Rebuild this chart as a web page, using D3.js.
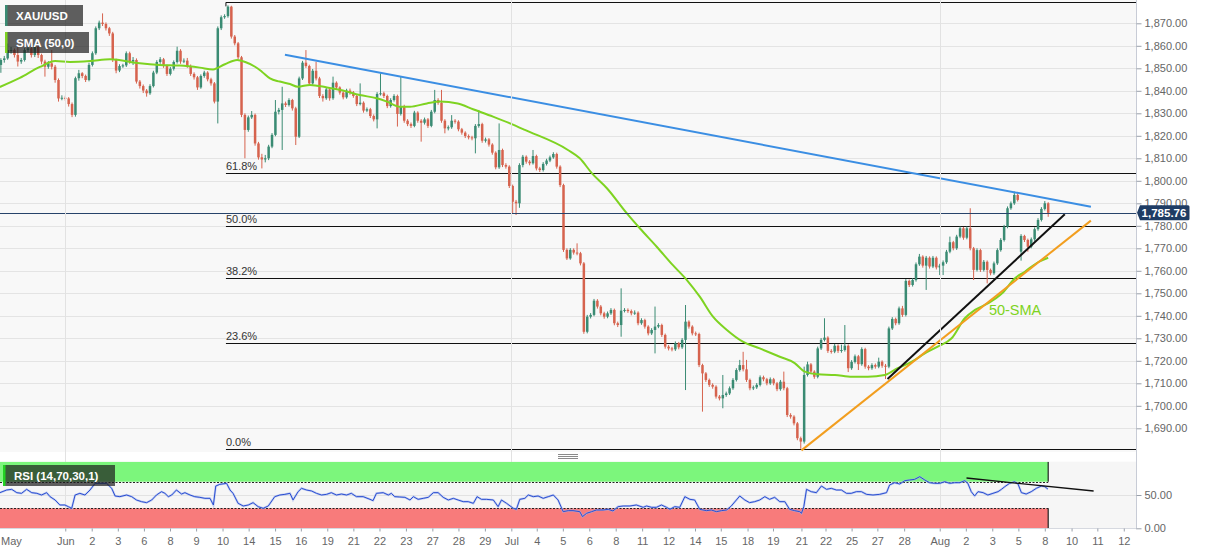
<!DOCTYPE html>
<html><head><meta charset="utf-8">
<script src="https://cdn.jsdelivr.net/npm/d3@7"></script>
<style>
html,body{margin:0;padding:0;background:#fff;}
svg{display:block;font-family:"Liberation Sans",Arial,Helvetica,sans-serif;}
</style></head><body>
<svg id="c" width="1207" height="555"></svg>
<script>
// ---------- DATA (XAU/USD, 4H bars; bar index 0 = Jun 1) ----------
const firstBar = -19;
const opens = [
1851.5,1853.7,1854.4,1858.1,1858.1,1855.9,1853.0,1853.7,1858.1,1858.9,
1855.9,1859.6,1855.9,1853.0,1850.7,1852.2,1850.7,1844.8,1836.6,1836.9,
1836.6,1834.1,1829.3,1845.6,1847.8,1846.6,1844.8,1851.5,1856.7,1867.8,
1870.3,1869.7,1867.8,1865.5,1853.7,1849.0,1851.0,1851.3,1856.7,1853.0,
1853.7,1844.1,1842.1,1840.1,1838.9,1842.1,1848.1,1852.8,1854.0,1851.0,
1847.5,1849.8,1852.8,1857.8,1853.0,1853.4,1851.0,1847.5,1846.0,1841.5,
1846.6,1848.1,1845.1,1843.3,1835.2,1867.8,1872.7,1873.2,1877.4,1864.1,
1861.1,1854.9,1829.3,1822.6,1828.2,1829.3,1816.6,1810.4,1809.5,1810.0,
1815.2,1820.4,1830.7,1831.5,1834.4,1833.7,1835.9,1832.2,1819.6,1845.5,
1852.5,1851.0,1843.3,1848.9,1845.5,1837.7,1836.7,1840.6,1836.7,1843.6,
1841.5,1839.2,1837.1,1840.1,1839.2,1837.7,1834.1,1834.7,1831.2,1831.8,
1828.8,1827.3,1838.6,1838.9,1837.7,1833.2,1835.9,1837.7,1829.7,1833.2,
1826.7,1825.2,1824.4,1830.3,1826.7,1825.8,1827.3,1824.4,1830.7,1835.9,
1834.7,1826.7,1823.3,1823.8,1826.7,1826.3,1822.9,1821.4,1819.9,1819.3,
1818.9,1824.4,1825.2,1817.8,1818.4,1816.1,1812.5,1806.0,1813.7,1807.0,
1806.3,1797.7,1790.7,1790.0,1807.0,1810.7,1808.5,1807.8,1811.0,1805.5,
1804.8,1807.5,1809.0,1810.4,1811.9,1806.3,1798.1,1769.3,1765.5,1769.3,
1768.1,1767.8,1763.3,1732.9,1739.6,1740.4,1746.7,1744.1,1741.1,1739.6,
1741.1,1742.6,1736.7,1735.9,1742.3,1742.6,1742.1,1741.1,1741.4,1736.7,
1738.1,1735.2,1732.2,1733.7,1735.2,1735.9,1731.5,1726.3,1725.5,1725.1,
1727.8,1726.0,1729.3,1737.4,1735.2,1732.2,1731.9,1718.1,1714.4,1711.5,
1709.3,1708.5,1704.1,1703.3,1704.8,1705.5,1707.8,1711.5,1715.9,1718.1,
1716.2,1711.5,1707.8,1708.2,1709.3,1712.7,1711.8,1710.0,1711.8,1710.0,
1707.4,1710.7,1707.8,1695.9,1695.2,1692.2,1685.6,1684.1,1713.7,1718.4,
1715.2,1712.9,1725.5,1729.3,1730.3,1724.4,1724.1,1726.7,1724.4,1724.8,
1726.7,1716.7,1719.5,1722.0,1718.5,1725.2,1717.4,1716.7,1718.1,1717.4,
1719.6,1717.8,1717.4,1734.4,1738.6,1736.7,1743.3,1740.4,1755.5,1753.7,
1755.9,1762.9,1766.3,1762.3,1765.8,1761.9,1765.8,1761.5,1762.3,1763.8,
1768.5,1772.7,1770.0,1775.2,1778.9,1774.7,1778.9,1770.0,1760.4,1769.2,
1760.4,1764.0,1760.4,1758.9,1763.3,1769.2,1773.7,1779.6,1787.8,1790.0,
1793.7,1768.5,1775.5,1773.7,1770.7,1774.0,1778.5,1782.6,1787.5,1790.0];
const highs = [
1854.5,1855.5,1861.0,1859.5,1858.8,1861.0,1854.6,1859.0,1860.2,1859.5,
1861.0,1860.2,1856.5,1853.8,1853.2,1858.1,1851.5,1845.5,1838.0,1837.8,
1837.2,1834.8,1846.3,1849.3,1848.3,1847.2,1852.5,1857.5,1868.6,1871.2,
1874.4,1870.4,1868.4,1866.2,1854.3,1851.8,1852.0,1857.5,1857.4,1855.0,
1854.4,1844.8,1842.8,1840.8,1842.9,1848.9,1853.6,1855.0,1854.6,1851.6,
1850.6,1853.5,1859.6,1858.5,1854.4,1854.6,1851.7,1848.2,1846.6,1847.3,
1848.9,1848.7,1845.8,1843.9,1868.6,1873.5,1874.0,1878.0,1877.8,1864.8,
1861.7,1855.5,1830.0,1829.0,1831.0,1829.9,1817.3,1812.0,1811.5,1816.0,
1821.2,1835.9,1832.4,1841.8,1835.2,1836.7,1836.4,1832.9,1846.3,1853.3,
1858.1,1851.6,1849.7,1852.9,1846.2,1838.5,1841.4,1841.2,1846.3,1844.2,
1842.0,1839.8,1840.9,1841.0,1839.9,1838.3,1843.3,1835.3,1832.6,1832.4,
1829.5,1839.4,1847.8,1839.6,1838.3,1836.7,1838.5,1838.3,1846.3,1833.8,
1827.4,1825.9,1831.1,1830.9,1827.4,1828.1,1827.9,1831.5,1840.4,1836.7,
1840.4,1827.4,1824.6,1829.2,1827.4,1826.9,1823.5,1822.0,1820.6,1820.0,
1825.2,1831.5,1825.8,1819.2,1819.0,1816.7,1813.1,1825.5,1814.3,1807.8,
1806.9,1798.3,1791.5,1807.8,1811.5,1811.3,1809.2,1813.7,1811.6,1806.2,
1808.3,1809.8,1811.2,1812.7,1812.5,1806.9,1798.7,1770.0,1770.1,1770.0,
1772.2,1768.4,1763.9,1740.4,1741.2,1747.5,1747.4,1744.8,1741.8,1741.9,
1743.4,1743.2,1737.4,1752.2,1743.4,1743.3,1742.8,1742.4,1742.0,1738.9,
1738.7,1735.8,1734.5,1744.1,1736.7,1736.5,1732.1,1727.0,1726.2,1728.6,
1728.4,1730.1,1744.8,1738.0,1735.8,1733.0,1732.5,1718.7,1715.0,1712.1,
1710.0,1709.1,1704.8,1713.7,1706.3,1708.6,1712.3,1716.7,1720.4,1724.0,
1720.4,1712.1,1709.0,1710.1,1713.5,1713.4,1712.4,1712.6,1712.4,1710.6,
1711.5,1715.2,1708.4,1696.7,1695.8,1692.8,1686.3,1717.4,1719.6,1719.0,
1715.8,1726.3,1730.1,1738.9,1730.9,1725.2,1727.5,1727.3,1727.2,1735.9,
1727.3,1720.3,1722.8,1722.6,1726.0,1725.8,1718.1,1718.9,1718.8,1721.4,
1720.2,1718.6,1735.2,1739.4,1739.2,1744.1,1744.4,1756.3,1756.1,1756.7,
1763.7,1767.5,1766.9,1766.6,1766.4,1766.6,1766.4,1763.1,1764.6,1769.3,
1775.2,1773.3,1776.0,1779.7,1779.5,1779.7,1787.8,1770.6,1770.0,1769.8,
1764.8,1764.6,1761.0,1764.1,1770.0,1774.5,1780.4,1788.6,1790.8,1795.2,
1794.5,1776.3,1776.0,1774.3,1774.8,1779.3,1783.4,1788.3,1791.0,1790.5];
const lows = [
1848.0,1852.5,1853.8,1856.5,1854.8,1850.8,1852.0,1853.0,1857.2,1854.8,
1855.0,1854.6,1851.8,1846.3,1849.8,1849.5,1843.6,1835.2,1835.8,1835.6,
1833.0,1828.3,1828.5,1844.5,1845.6,1843.9,1844.2,1850.8,1856.0,1867.0,
1868.8,1866.8,1864.4,1852.8,1847.8,1848.3,1850.2,1850.6,1852.0,1851.5,
1843.2,1841.0,1839.0,1837.4,1838.2,1841.5,1847.4,1852.0,1850.2,1846.6,
1846.8,1849.0,1852.1,1852.0,1852.3,1850.2,1846.6,1845.0,1840.4,1840.9,
1845.8,1844.2,1842.3,1834.4,1825.5,1867.0,1872.0,1872.5,1863.2,1860.2,
1853.9,1828.3,1810.0,1821.8,1827.5,1815.6,1809.4,1805.5,1808.2,1809.2,
1814.5,1819.8,1829.5,1813.7,1832.8,1833.0,1831.2,1815.9,1819.0,1844.8,
1850.2,1842.4,1842.7,1844.6,1836.8,1835.2,1836.0,1835.6,1836.0,1840.6,
1838.3,1836.2,1836.5,1838.3,1836.9,1833.2,1833.5,1830.3,1830.5,1827.9,
1826.4,1823.3,1837.9,1836.8,1832.3,1832.5,1835.2,1824.1,1829.0,1825.8,
1824.3,1823.5,1823.8,1825.8,1817.4,1825.0,1823.5,1823.8,1830.0,1833.8,
1825.8,1821.1,1822.4,1823.1,1825.4,1822.0,1820.5,1819.0,1818.4,1818.0,
1812.2,1823.6,1816.9,1817.0,1815.2,1811.6,1805.1,1805.3,1806.1,1805.4,
1796.8,1785.5,1784.8,1788.0,1806.0,1807.6,1806.9,1807.2,1804.6,1803.9,
1804.1,1806.8,1808.3,1809.8,1805.4,1797.2,1768.4,1764.8,1764.9,1767.2,
1766.9,1762.4,1732.0,1732.2,1738.8,1739.8,1743.2,1740.2,1738.7,1738.9,
1740.4,1735.8,1735.0,1730.7,1741.5,1741.3,1740.2,1740.4,1735.8,1736.0,
1734.3,1731.3,1731.5,1723.3,1734.5,1730.6,1725.4,1724.6,1724.2,1724.4,
1725.1,1725.3,1707.0,1734.3,1731.3,1731.0,1717.2,1697.4,1710.6,1708.4,
1707.6,1703.2,1702.4,1698.9,1704.0,1704.8,1707.1,1710.8,1715.2,1715.3,
1710.6,1706.9,1707.0,1707.5,1708.6,1710.9,1709.1,1709.3,1709.1,1706.5,
1706.7,1706.9,1695.0,1694.3,1691.3,1684.7,1680.9,1683.2,1713.0,1714.3,
1712.0,1712.2,1724.8,1728.6,1723.5,1723.2,1723.4,1723.5,1723.6,1724.1,
1715.0,1716.0,1718.8,1715.9,1717.8,1716.5,1715.8,1716.0,1716.5,1716.7,
1716.9,1711.9,1716.7,1733.7,1735.8,1736.0,1739.5,1739.7,1752.8,1753.0,
1755.2,1762.2,1761.4,1751.5,1761.0,1761.2,1760.6,1758.1,1758.1,1763.1,
1767.8,1769.1,1769.3,1774.5,1773.8,1774.0,1769.1,1755.9,1759.7,1759.5,
1759.7,1754.4,1758.0,1758.2,1762.6,1768.5,1773.0,1778.9,1787.1,1789.3,
1790.8,1764.5,1772.8,1768.5,1770.0,1773.3,1777.8,1781.9,1786.8,1784.0];
const closes = [
1853.7,1854.4,1858.1,1858.1,1855.9,1853.0,1853.7,1858.1,1858.9,1855.9,
1859.6,1855.9,1853.0,1850.7,1852.2,1850.7,1844.8,1836.6,1836.9,1836.6,
1834.1,1829.3,1845.6,1847.8,1846.6,1844.8,1851.5,1856.7,1867.8,1870.3,
1869.7,1867.8,1865.5,1853.7,1849.0,1851.0,1851.3,1856.7,1853.0,1853.7,
1844.1,1842.1,1840.1,1838.9,1842.1,1848.1,1852.8,1854.0,1851.0,1847.5,
1849.8,1852.8,1857.8,1853.0,1853.4,1851.0,1847.5,1846.0,1841.5,1846.6,
1848.1,1845.1,1843.3,1835.2,1867.8,1872.7,1873.2,1877.4,1864.1,1861.1,
1854.9,1829.3,1822.6,1828.2,1829.3,1816.6,1810.4,1809.5,1810.0,1815.2,
1820.4,1830.7,1831.5,1834.4,1833.7,1835.9,1832.2,1819.6,1845.5,1852.5,
1851.0,1843.3,1848.9,1845.5,1837.7,1836.7,1840.6,1836.7,1843.6,1841.5,
1839.2,1837.1,1840.1,1839.2,1837.7,1834.1,1834.7,1831.2,1831.8,1828.8,
1827.3,1838.6,1838.9,1837.7,1833.2,1835.9,1837.7,1829.7,1833.2,1826.7,
1825.2,1824.4,1830.3,1826.7,1825.8,1827.3,1824.4,1830.7,1835.9,1834.7,
1826.7,1823.3,1823.8,1826.7,1826.3,1822.9,1821.4,1819.9,1819.3,1818.9,
1824.4,1825.2,1817.8,1818.4,1816.1,1812.5,1806.0,1813.7,1807.0,1806.3,
1797.7,1790.7,1790.0,1807.0,1810.7,1808.5,1807.8,1811.0,1805.5,1804.8,
1807.5,1809.0,1810.4,1811.9,1806.3,1798.1,1769.3,1765.5,1769.3,1768.1,
1767.8,1763.3,1732.9,1739.6,1740.4,1746.7,1744.1,1741.1,1739.6,1741.1,
1742.6,1736.7,1735.9,1742.3,1742.6,1742.1,1741.1,1741.4,1736.7,1738.1,
1735.2,1732.2,1733.7,1735.2,1735.9,1731.5,1726.3,1725.5,1725.1,1727.8,
1726.0,1729.3,1737.4,1735.2,1732.2,1731.9,1718.1,1714.4,1711.5,1709.3,
1708.5,1704.1,1703.3,1704.8,1705.5,1707.8,1711.5,1715.9,1718.1,1716.2,
1711.5,1707.8,1708.2,1709.3,1712.7,1711.8,1710.0,1711.8,1710.0,1707.4,
1710.7,1707.8,1695.9,1695.2,1692.2,1685.6,1684.1,1713.7,1718.4,1715.2,
1712.9,1725.5,1729.3,1730.3,1724.4,1724.1,1726.7,1724.4,1724.8,1726.7,
1716.7,1719.5,1722.0,1718.5,1725.2,1717.4,1716.7,1718.1,1717.4,1719.6,
1717.8,1717.4,1734.4,1738.6,1736.7,1743.3,1740.4,1755.5,1753.7,1755.9,
1762.9,1766.3,1762.3,1765.8,1761.9,1765.8,1761.5,1762.3,1763.8,1768.5,
1772.7,1770.0,1775.2,1778.9,1774.7,1778.9,1770.0,1760.4,1769.2,1760.4,
1764.0,1760.4,1758.9,1763.3,1769.2,1773.7,1779.6,1787.8,1790.0,1793.7,
1791.5,1775.5,1773.7,1770.7,1774.0,1778.5,1782.6,1787.5,1790.0,1785.76];

// 50-period SMA (bar position, value)
const smaAt = [-19.3,-13.4,-7.5,-3,1.4,7.3,13.2,22,27.9,33.8,39.7,43.6,47.1,50.7,53.1,56,58,60.4,63.3,66.3,68.6,72.2,77.2,81.9,86.9,91.9,94.9,98.7,101.7,106.7,110.5,115.8,120.3,126.2,131.2,135.6,148.3,151.8,155.4,159.8,165.7,169.5,174.5,179.2,183.4,187.2,191.1,195.2,199.9,204.9,210.8,215.2,218.2,222,227.1,232.1,236.8,241.8,245.6,249.8,253.6,257.4,261.5,265.4,268.4,272.2,276.4,280.2,283.1,287,290];
const smaValues = [1841.7,1845.7,1850.6,1853.2,1852.8,1853.2,1854.0,1852.2,1851.5,1851.2,1850.3,1849.5,1851.8,1853.7,1852.8,1850.7,1848.5,1845.5,1844.1,1843.0,1841.8,1842.6,1841.5,1840.1,1838.1,1836.7,1835.2,1832.9,1832.9,1834.4,1835.2,1834.4,1831.8,1828.5,1825.5,1822.6,1813.7,1810.0,1803.3,1796.7,1785.5,1778.9,1770.7,1762.6,1755.9,1748.5,1739.6,1733.7,1728.5,1725.5,1721.8,1719.0,1715.2,1714.0,1713.7,1712.9,1712.9,1713.7,1716.7,1719.6,1723.3,1726.3,1730.0,1738.9,1742.6,1745.5,1750.0,1756.7,1759.6,1763.8,1765.8];

// RSI(14) (bar position, value)
const rsiAt = [-19.3,-17.3,-15.8,-14.3,-12.9,-11.4,-9.9,-8.4,-7,-5.5,-4.5,-3,-1.6,-0.1,0.9,1.9,2.9,4.3,5.8,7.3,8.8,10.2,12.2,13.7,14.7,16.1,18.1,19.6,21,22.5,24,25.5,26.9,28.4,29.4,30.4,31.4,32.8,34.3,35.3,36.8,38.2,39.7,41.2,42.7,43.7,44.4,45.6,47.6,48.6,49.5,51,52.5,54,55.4,56.9,58.4,59.9,61.8,63.3,64.8,66.3,67.2,68.7,69.7,71.2,72.7,74.1,75.6,77.1,78.5,80,81.5,83,84.4,85.9,87.9,89.9,90.8,91.8,93.8,95.3,96.2,97.2,98.7,
100.2,101.7,102.7,104.1,105.6,107.1,108.6,110,111.5,113,114.5,115.9,117.4,118.9,120.4,121.5,122.8,124.3,126.3,127.7,128.7,130.2,132.2,133.1,134.1,135.6,136.6,138.1,139.5,141,142.5,144,145.4,146.9,148.4,149.8,151.8,152.6,153.8,155.3,156.7,158.7,160.2,161.6,163.1,164.6,166.6,168.5,170.5,171.5,173,174.4,175.9,177.4,178.4,179.8,181.3,182.8,184.3,185.7,187.2,189.2,190.6,192.1,193.6,195.1,196.5,198,199,200.5,201.9,203.4,204.9,206.4,207.8,209.3,210.8,212.3,213.7,215.2,216.7,
217.2,217.9,218.7,220.1,221.6,223.1,224.6,226,227.5,229,230.5,231.9,233.4,234.9,236.4,238.3,240.3,242.3,243.2,244.7,246.2,247.7,249.1,250.6,252.1,253.6,255,256.5,258,259.5,260.9,262.4,263.9,265.4,266.3,267.3,268.3,269.3,270.8,272.2,273.7,275.2,276.2,277.2,278.6,280.1,281.1,282.1,283.5,285,286.5,288,289,289.9];
const rsiValues = [53.5,57.5,58.5,53.5,52.5,58.5,53.5,52.5,50,53.5,47.5,42.5,35,35,32.5,30,50,52.5,50,57.5,67.5,67.5,67.5,60,48.5,47.5,50,47.5,42.5,40,38.5,42.5,50,55,52.5,47.5,50,57.5,51.5,53.5,50,47.5,46.5,45,45,35,63.5,66,67.5,57.5,52.5,37.5,33.5,35,38.5,32.5,30,33.5,47.5,50,51,52.5,42.5,55,60,57.5,56,52.5,50,51,53.5,50,51.5,50,52.5,47.5,47.5,43.5,41.5,52.5,53.5,50,52.5,47.5,47,
46.5,42.5,47.5,43.5,45,46.5,53.5,53.5,46.5,42.5,45,42.5,40,40,37.5,47.5,43.5,43.5,42.5,32.5,42.5,37.5,30,28.5,43.5,45,50,47.5,48.5,45,47.5,50,42.5,25,26.5,26.5,25,17.5,22.5,25,27.5,27.5,28.5,26,32.5,33.5,33.5,35,31.5,33.5,31.5,31.5,35,31.5,28.5,32.5,31.5,47.5,43.5,42.5,28.5,26.5,27.5,25,26.5,27.5,33.5,42.5,48.5,42.5,38.5,40,42.5,47.5,43.5,46.5,40,40,28.5,26.5,25,
22.5,32.5,58.5,55,53.5,63.5,58.5,60,57.5,57.5,52.5,52.5,55,55,51,50,51,53.5,65,68.5,66.5,71.5,72.5,73.5,77.5,72.5,68.5,67.5,67.5,70,67.5,68.5,68.5,71.5,67.5,55,48.5,55,53.5,50,52.5,55,58.5,62.5,67.5,70,66.5,53.5,51.5,55,60,63.5,62.5,59];

// Axis ticks and labels
const priceTicks = [1690,1700,1710,1720,1730,1740,1750,1760,1770,1780,1790,1800,1810,1820,1830,1840,1850,1860,1870];
const rsiTicks = [0,50];
const timeTickAt = [-17,0,7.8,15.5,23.2,30.9,38.6,46.4,54.1,61.9,69.5,77.3,85,92.7,100.5,108.3,116,123.8,131.6,139.1,146.8,154.6,162.4,170.2,178,185.8,193.4,201.3,208.8,217.2,224.3,232,239.6,247.5,258,265.7,273.5,281.2,289,296.9,304.5,312.3];
const timeTickLabels = ["May","Jun","2","3","6","8","9","10","14","15","16","19","21","22","23","27","28","29","Jul","4","5","6","8","11","12","14","15","18","19","21","22","25","27","28","Aug","2","3","5","8","10","11","12"];
const monthStartAt = [0,131.6,258];

// Fibonacci retracement (swing high / swing low) and levels
const fibStartAt = 47.4;
const fibHigh = 1879.3, fibLow = 1680.9;
const fibRatios = [1, 0.618, 0.5, 0.382, 0.236, 0];
const fibLabels = ["", "61.8%", "50.0%", "38.2%", "23.6%", "0.0%"];

// Drawn trend lines [bar, price]
const resistanceLine = [[64.8,1856.0],[302.6,1788.5]];
const supportLineA = [[242.6,1711.9],[294.9,1785.1]];
const supportLineB = [[217.2,1680.2],[302.6,1782.3]];
const rsiTrendLine = [[265.9,75.5],[303.4,56]];
const smaLabelAt = [272.5,1740.4];
const lastPrice = 1785.76;

// ---------- SCALES ----------
const PLOT_R = 1136;
const x = d3.scaleLinear().domain([-19.26, 315.76]).range([0, 1135.5]);
const y = d3.scaleLinear().domain([1680, 1880]).range([450.8, 0.8]);
const yr = d3.scaleLinear().domain([0, 100]).range([528.3, 461.7]);

const svg = d3.select('#c');
const defs = svg.append('defs');
defs.append('clipPath').attr('id','mainClip').append('rect').attr('x',0).attr('y',0).attr('width',PLOT_R).attr('height',452);
defs.append('clipPath').attr('id','rsiClip').append('rect').attr('x',0).attr('y',yr(100)).attr('width',PLOT_R).attr('height',yr(0)-yr(100));

// backgrounds
svg.append('rect').attr('x',0).attr('y',0).attr('width',PLOT_R).attr('height',452).attr('fill','#f8f8f8');
svg.append('rect').attr('x',0).attr('y',yr(100)).attr('width',PLOT_R).attr('height',yr(0)-yr(100)).attr('fill','#f6f6f6');

// grid
const main = svg.append('g').attr('clip-path','url(#mainClip)');
main.selectAll('line.grid').data(priceTicks).join('line').attr('class','grid')
  .attr('x1',0).attr('x2',PLOT_R).attr('y1',d=>Math.round(y(d))+0.5).attr('y2',d=>Math.round(y(d))+0.5)
  .attr('stroke','#e4e4e4').attr('stroke-width',1);
svg.selectAll('line.month').data(monthStartAt).join('line').attr('class','month')
  .attr('x1',d=>Math.round(x(d))+0.5).attr('x2',d=>Math.round(x(d))+0.5).attr('y1',0).attr('y2',yr(0))
  .attr('stroke','#e2e2e2').attr('stroke-width',1);

// Fibonacci lines
const fibG = main.append('g');
fibRatios.forEach((r,k)=>{
  const p = fibLow + (fibHigh - fibLow) * r;
  const yy = Math.round(y(p)) + 0.5;
  fibG.append('line').attr('x1',x(fibStartAt)).attr('x2',PLOT_R).attr('y1',yy).attr('y2',yy)
    .attr('stroke','#111').attr('stroke-width',1.2);
  if (fibLabels[k]) fibG.append('text').attr('x',x(fibStartAt)).attr('y',yy-3.5)
    .attr('font-size',11).attr('fill','#333').text(fibLabels[k]);
});
fibG.append('line').attr('x1',x(fibStartAt)).attr('x2',x(fibStartAt)).attr('y1',y(fibHigh)).attr('y2',y(fibHigh)+4).attr('stroke','#111');

// candles
const bars = closes.map((c,i)=>({i: firstBar + i, o: opens[i], h: highs[i], l: lows[i], c}));
const UP = '#3a8b73', DN = '#d6634e';
const cg = main.append('g');
cg.selectAll('line.wick').data(bars).join('line').attr('class','wick')
  .attr('x1',d=>x(d.i)).attr('x2',d=>x(d.i)).attr('y1',d=>y(d.h)).attr('y2',d=>y(d.l))
  .attr('stroke',d=>d.c>=d.o?UP:DN).attr('stroke-width',1);
cg.selectAll('rect.body').data(bars).join('rect').attr('class','body')
  .attr('x',d=>x(d.i)-1.25).attr('width',2.5)
  .attr('y',d=>y(Math.max(d.o,d.c)))
  .attr('height',d=>Math.max(1, Math.abs(y(d.o)-y(d.c))))
  .attr('fill',d=>d.c>=d.o?UP:DN);

// SMA
const smaLine = d3.line().x((d,i)=>x(smaAt[i])).y(d=>y(d)).curve(d3.curveMonotoneX);
main.append('path').attr('d',smaLine(smaValues)).attr('fill','none').attr('stroke','#7ed321').attr('stroke-width',2);

// trend lines
const tl = d3.line().x(d=>x(d[0])).y(d=>y(d[1]));
main.append('path').attr('d',tl(resistanceLine)).attr('stroke','#3b8ee3').attr('stroke-width',2).attr('fill','none');
main.append('path').attr('d',tl(supportLineB)).attr('stroke','#f29e1f').attr('stroke-width',2).attr('fill','none');
main.append('path').attr('d',tl(supportLineA)).attr('stroke','#111').attr('stroke-width',2).attr('fill','none');

// last price line
main.append('line').attr('x1',0).attr('x2',PLOT_R).attr('y1',Math.round(y(lastPrice))+0.5).attr('y2',Math.round(y(lastPrice))+0.5)
  .attr('stroke','#27436a').attr('stroke-width',1);

// SMA label
main.append('text').attr('x',x(smaLabelAt[0])).attr('y',y(smaLabelAt[1])).attr('font-size',14.5)
  .attr('fill','#7ed321').text('50-SMA');

// ---------- RSI panel ----------
const rsiG = svg.append('g').attr('clip-path','url(#rsiClip)');
const bandEnd = x(290);
rsiG.append('line').attr('x1',0).attr('x2',PLOT_R).attr('y1',Math.round(yr(50))+0.5).attr('y2',Math.round(yr(50))+0.5).attr('stroke','#e2e2e2');
rsiG.append('rect').attr('x',0).attr('y',yr(100)).attr('width',bandEnd).attr('height',yr(70)-yr(100)).attr('fill','#7cf67c');
rsiG.append('rect').attr('x',0).attr('y',yr(30)).attr('width',bandEnd).attr('height',yr(0)-yr(30)).attr('fill','#f87b7b');
[[100,70],[30,0]].forEach(b=>{
  rsiG.append('line').attr('x1',bandEnd).attr('x2',bandEnd).attr('y1',yr(b[0])).attr('y2',yr(b[1])).attr('stroke','#222').attr('stroke-width',1.2);
});
[70,30].forEach(v=>{
  rsiG.append('line').attr('x1',0).attr('x2',bandEnd).attr('y1',Math.round(yr(v))+0.5).attr('y2',Math.round(yr(v))+0.5)
    .attr('stroke','#222').attr('stroke-width',1).attr('stroke-dasharray','2,1.5');
});
const rsiLine = d3.line().x((d,i)=>x(rsiAt[i])).y(d=>yr(d));
rsiG.append('path').attr('d',rsiLine(rsiValues)).attr('fill','none').attr('stroke','#9fb2ee').attr('stroke-width',2.2).attr('opacity',0.6);
rsiG.append('path').attr('d',rsiLine(rsiValues)).attr('fill','none').attr('stroke','#2a4dd0').attr('stroke-width',1);
const rl = d3.line().x(d=>x(d[0])).y(d=>yr(d[1]));
rsiG.append('path').attr('d',rl(rsiTrendLine)).attr('stroke','#111').attr('stroke-width',1.3).attr('fill','none');

// panel divider handle
[454.5,456.5,458.5].forEach(yy=>svg.append('line').attr('x1',558).attr('x2',578).attr('y1',yy).attr('y2',yy).attr('stroke','#8a8a8a').attr('stroke-width',1));

// ---------- AXES ----------
svg.append('line').attr('x1',PLOT_R+0.5).attr('x2',PLOT_R+0.5).attr('y1',0).attr('y2',yr(0)+1).attr('stroke','#c8ccd6');
svg.append('line').attr('x1',0).attr('x2',PLOT_R).attr('y1',Math.round(yr(0))+0.5).attr('y2',Math.round(yr(0))+0.5).attr('stroke','#d6d9e0');

const yAxis = d3.axisRight(y).tickValues(priceTicks).tickFormat(d3.format(',.2f')).tickSize(5).tickPadding(3);
const ya = svg.append('g').attr('transform',`translate(${PLOT_R+0.5},0)`).call(yAxis);
const rAxis = d3.axisRight(yr).tickValues(rsiTicks).tickFormat(d3.format(',.2f')).tickSize(5).tickPadding(3);
const ra = svg.append('g').attr('transform',`translate(${PLOT_R+0.5},0)`).call(rAxis);
[ya,ra].forEach(a=>{
  a.select('.domain').remove();
  a.selectAll('line').attr('stroke','#9aa0aa');
  a.selectAll('text').attr('fill','#666').attr('font-size',11).attr('font-family','"Liberation Sans",Arial,sans-serif');
});

const xAxis = d3.axisBottom(x).tickValues(timeTickAt).tickFormat((d,i)=>timeTickLabels[i]).tickSize(3).tickPadding(6);
const xa = svg.append('g').attr('transform',`translate(0,${Math.round(yr(0))+0.5})`).call(xAxis);
xa.select('.domain').remove();
xa.selectAll('line').attr('stroke','#9aa0aa');
xa.selectAll('text').attr('fill','#666').attr('font-size',11).attr('font-family','"Liberation Sans",Arial,sans-serif');
const firstTick = xa.selectAll('.tick').filter((d,i)=>i===0);
firstTick.select('line').remove();
firstTick.select('text').attr('text-anchor','start').attr('x', 0.5 - x(timeTickAt[0]));

// last price tag
const py = y(lastPrice);
svg.append('path').attr('d',`M${PLOT_R+1},${py} L${PLOT_R+4},${py-7.5} H${PLOT_R+52} a1.5,1.5 0 0 1 1.5,1.5 V${py+6} a1.5,1.5 0 0 1 -1.5,1.5 H${PLOT_R+4} Z`)
  .attr('fill','#1f3c64');
svg.append('text').attr('x',PLOT_R+28).attr('y',py+4).attr('text-anchor','middle').attr('font-size',11.5)
  .attr('font-weight','bold').attr('fill','#fff').text(d3.format(',.2f')(lastPrice));

// ---------- LEGEND BOXES ----------
function legend(x0,y0,w,h,stripe,label){
  const g = svg.append('g');
  g.append('rect').attr('x',x0).attr('y',y0).attr('width',w).attr('height',h).attr('fill','rgba(28,28,28,0.7)');
  g.append('rect').attr('x',x0).attr('y',y0).attr('width',2.5).attr('height',h).attr('fill',stripe);
  g.append('text').attr('x',x0+11).attr('y',y0+h/2+4).attr('font-size',11.5).attr('font-weight','bold').attr('fill','#fff').text(label);
}
legend(5,5,78,21,'#3a8b73','XAU/USD');
legend(5,32,84,21,'#7ed321','SMA (50,0)');
legend(3,465,112,21,'#22d322','RSI (14,70,30,1)');
</script>
</body></html>
